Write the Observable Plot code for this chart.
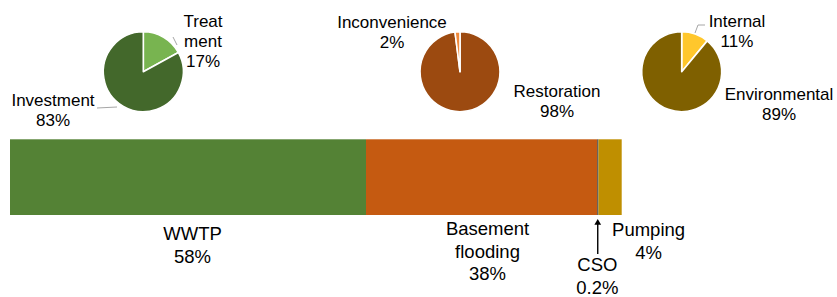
<!DOCTYPE html>
<html><head><meta charset="utf-8">
<script src="https://cdn.jsdelivr.net/npm/d3@7"></script>
<script src="https://cdn.jsdelivr.net/npm/@observablehq/plot@0.6"></script>
<style>body{margin:0;background:#fff} svg{display:block}</style>
</head><body><div id="chart"></div>
<script>
// ---- data ----
const barCategories = ["WWTP", "Basement flooding", "CSO", "Pumping"];
const barValues = [58.2, 37.8, 0.2, 3.8];
const barLabels = ["WWTP\n58%", "Basement\nflooding\n38%", "CSO\n0.2%", "Pumping\n4%"];

const wwtpCategories = ["Treatment", "Investment"];
const wwtpValues = [17, 83];
const wwtpLabels = ["Treat\nment\n17%", "Investment\n83%"];

const basementCategories = ["Restoration", "Inconvenience"];
const basementValues = [98, 2];
const basementLabels = ["Restoration\n98%", "Inconvenience\n2%"];

const pumpingCategories = ["Internal", "Environmental"];
const pumpingValues = [11, 89];
const pumpingLabels = ["Internal\n11%", "Environmental\n89%"];

// ---- styles / layout ----
const FONT = "'Liberation Sans', Arial, sans-serif";
const PIE_FS = 17;
const BAR_FS = 18.5;
const BAR_LH = 22.5 / 18.5;
const barColors = ["#548235", "#C55A11", "#404040", "#BF8F00"];
const barLabelLayout = {
  "WWTP": {dx: 4, dy: 9},
  "Basement flooding": {dx: 5.4, dy: 4},
  "CSO": {dx: -1, dy: 39.8},
  "Pumping": {dx: 38, dy: 4.7}
};
const pies = [
  {cats: wwtpCategories, vals: wwtpValues, labels: wwtpLabels, colors: ["#78B450", "#43682B"],
   cx: 143.3, cy: 71.7, r: 40,
   labelPos: [[203, 27], [53, 106]],
   leaders: [[[173, 37], [177, 45]], [[97, 108], [117, 107]]]},
  {cats: basementCategories, vals: basementValues, labels: basementLabels, colors: ["#9C4A10", "#F08A3C"],
   cx: 460, cy: 71.7, r: 40,
   labelPos: [[557, 97], [392, 28]],
   leaders: []},
  {cats: pumpingCategories, vals: pumpingValues, labels: pumpingLabels, colors: ["#FFC72C", "#7F6000"],
   cx: 681.7, cy: 71.7, r: 40,
   labelPos: [[737, 27], [779, 100]],
   leaders: [[[705, 25], [698, 25], [695, 33]]]}
];

// ---- build table ----
let acc = 0;
const bars = barCategories.map((c, i) => {
  const d = {category: c, value: barValues[i], label: barLabels[i], start: acc};
  acc += barValues[i];
  d.end = acc; d.mid = (d.start + d.end) / 2;
  return d;
});
const total = acc;
const cso = bars.find(d => d.category === "CSO");

function pieMark() {
  const g = d3.create("svg:g");
  for (const p of pies) {
    const data = p.cats.map((c, i) => ({cat: c, value: p.vals[i], color: p.colors[i], label: p.labels[i]}));
    const arcs = d3.pie().sort(null).value(d => d.value)(data);
    const arc = d3.arc().innerRadius(0).outerRadius(p.r);
    g.append("g").attr("transform", `translate(${p.cx},${p.cy})`)
      .selectAll("path").data(arcs).join("path")
      .attr("d", arc).attr("fill", d => d.data.color)
      .attr("stroke", "#fff").attr("stroke-width", 1.6).attr("stroke-linejoin", "round");
    for (const l of p.leaders) {
      g.append("path").attr("d", d3.line()(l)).attr("fill", "none")
        .attr("stroke", "#A6A6A6").attr("stroke-width", 1);
    }
    data.forEach((d, i) => {
      const [x, y] = p.labelPos[i];
      const t = g.append("text").attr("text-anchor", "middle")
        .attr("font-family", FONT).attr("font-size", PIE_FS).attr("fill", "#000");
      d.label.split("\n").forEach((line, j) => {
        t.append("tspan").attr("x", x).attr("y", y + j * 20).text(line);
      });
    });
  }
  return g.node();
}

const labelMarks = bars.map(b => {
  const L = barLabelLayout[b.category];
  return Plot.text([b], {x: "mid", y: 0, text: "label", lineAnchor: "top", textAnchor: "middle",
    dx: L.dx, dy: L.dy, lineHeight: BAR_LH, fill: "#000", fontSize: BAR_FS});
});

const chart = Plot.plot({
  width: 837, height: 297,
  margin: 0,
  style: {fontFamily: FONT, background: "#fff"},
  x: {domain: [0, total], range: [10, 621.7], axis: null},
  y: {domain: [0, 1], range: [215, 139.3], axis: null},
  color: {domain: barCategories, range: barColors},
  marks: [
    Plot.rectX(bars, {x1: "start", x2: "end", y1: 0, y2: 1, fill: "category"}),
    ...labelMarks,
    Plot.ruleX([cso], {x: "mid", y1: -0.515, y2: -0.11, stroke: "#000", strokeWidth: 1.4, dx: -0.6}),
    Plot.dot([cso], {x: "mid", y: -0.096, symbol: "triangle", r: 2.5, fill: "#000", stroke: null, dx: -0.6}),
    pieMark
  ]
});
document.getElementById("chart").appendChild(chart);
</script>
</body></html>
